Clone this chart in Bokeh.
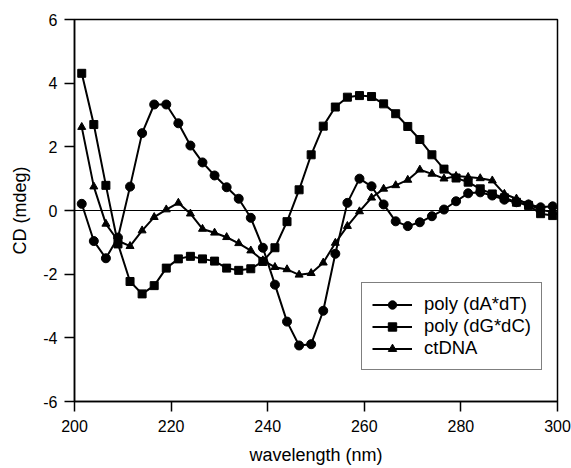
from bokeh.plotting import figure
from bokeh.models import Range1d, Span, Legend, LegendItem, FixedTicker
from bokeh.embed import file_html
from bokeh.resources import INLINE

wavelength = [201.5, 204, 206.5, 209, 211.5, 214, 216.5, 219, 221.5, 224,
              226.5, 229, 231.5, 234, 236.5, 239, 241.5, 244, 246.5, 249,
              251.5, 254, 256.5, 259, 261.5, 264, 266.5, 269, 271.5, 274,
              276.5, 279, 281.5, 284, 286.5, 289, 291.5, 294, 296.5, 299]

poly_dA_dT = [0.21, -0.96, -1.50, -0.85, 0.75, 2.43, 3.33, 3.33, 2.74, 2.04,
              1.51, 1.10, 0.73, 0.37, -0.23, -1.17, -2.33, -3.49, -4.24, -4.20,
              -3.15, -1.36, 0.24, 1.00, 0.76, 0.19, -0.34, -0.49, -0.37, -0.18,
              0.03, 0.29, 0.54, 0.57, 0.47, 0.34, 0.26, 0.19, 0.10, 0.13]

poly_dG_dC = [4.31, 2.70, 0.79, -1.05, -2.23, -2.62, -2.36, -1.81, -1.52, -1.44,
              -1.52, -1.59, -1.81, -1.88, -1.83, -1.60, -1.17, -0.35, 0.65, 1.75,
              2.65, 3.25, 3.56, 3.61, 3.58, 3.35, 3.04, 2.64, 2.23, 1.75,
              1.30, 1.02, 0.89, 0.68, 0.52, 0.40, 0.26, 0.16, -0.10, -0.16]

ct_dna = [2.62, 0.75, -0.42, -0.95, -1.12, -0.63, -0.21, 0.03, 0.24, -0.10,
          -0.58, -0.70, -0.84, -1.03, -1.26, -1.57, -1.78, -1.85, -2.02, -1.97,
          -1.64, -1.02, -0.49, -0.03, 0.40, 0.68, 0.79, 0.96, 1.28, 1.15,
          1.00, 1.08, 1.05, 1.01, 0.94, 0.52, 0.37, 0.19, 0.02, -0.05]

series_labels = ["poly (dA*dT)", "poly (dG*dC)", "ctDNA"]
x_ticks = [200, 220, 240, 260, 280, 300]
y_ticks = [-6, -4, -2, 0, 2, 4, 6]
y_tick_labels = {t: str(t) for t in y_ticks}

FONT = "Liberation Sans"

p = figure(width=571, height=468, output_backend="svg", toolbar_location=None,
           x_range=Range1d(200, 300), y_range=Range1d(-6, 6),
           min_border_left=74, min_border_right=14, min_border_top=19,
           min_border_bottom=67, background_fill_color="white",
           border_fill_color="white")

p.xgrid.visible = False
p.ygrid.visible = False
p.outline_line_color = "black"
p.outline_line_width = 1.5

for ax, ticks in ((p.xaxis[0], x_ticks), (p.yaxis[0], y_ticks)):
    ax.ticker = FixedTicker(ticks=ticks)
    ax.axis_line_color = "black"
    ax.axis_line_width = 1.5
    ax.major_tick_line_color = "black"
    ax.major_tick_line_width = 1.5
    ax.major_tick_out = 10
    ax.major_tick_in = 0
    ax.minor_tick_line_color = None
    ax.major_label_text_font = FONT
    ax.major_label_text_font_size = "16px"
    ax.major_label_text_color = "black"
    ax.axis_label_text_font = FONT
    ax.axis_label_text_font_size = "18px"
    ax.axis_label_text_font_style = "normal"
    ax.axis_label_text_color = "black"

p.yaxis.major_label_overrides = y_tick_labels
p.xaxis.axis_label = "wavelength (nm)"
p.yaxis.axis_label = "CD (mdeg)"
p.xaxis.major_label_standoff = 8
p.xaxis.axis_label_standoff = 10
p.yaxis.major_label_standoff = 7
p.yaxis.axis_label_standoff = 10

p.add_layout(Span(location=0, dimension="width", line_color="black", line_width=1))

l1 = p.line(wavelength, poly_dA_dT, line_color="black", line_width=2)
m1 = p.scatter(wavelength, poly_dA_dT, marker="circle", size=9,
               fill_color="black", line_color="black")
l2 = p.line(wavelength, poly_dG_dC, line_color="black", line_width=2)
m2 = p.scatter(wavelength, poly_dG_dC, marker="square", size=8,
               fill_color="black", line_color="black")
l3 = p.line(wavelength, ct_dna, line_color="black", line_width=2)
m3 = p.scatter(wavelength, ct_dna, marker="triangle", size=8,
               fill_color="black", line_color="black")

legend = Legend(items=[
    LegendItem(label=series_labels[0], renderers=[l1, m1]),
    LegendItem(label=series_labels[1], renderers=[l2, m2]),
    LegendItem(label=series_labels[2], renderers=[l3, m3]),
], location=(287, 31))
legend.margin = 0
legend.padding = 10
legend.spacing = 0
legend.glyph_width = 40
legend.glyph_height = 21
legend.label_height = 21
legend.label_standoff = 12
legend.label_text_font = FONT
legend.label_text_font_size = "18.5px"
legend.label_text_color = "black"
legend.border_line_color = "black"
legend.border_line_width = 1
legend.background_fill_color = "white"
legend.background_fill_alpha = 1
p.add_layout(legend)

open("out.html", "w").write(file_html(p, INLINE))
